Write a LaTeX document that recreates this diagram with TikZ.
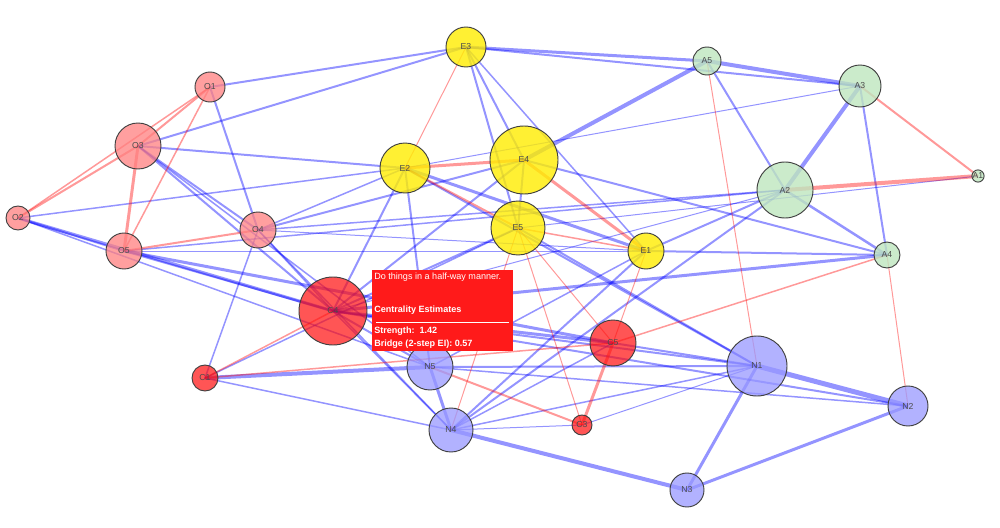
\documentclass[tikz,border=0pt]{standalone}
\usepackage{fontspec}
\setmainfont{Liberation Sans}
\usetikzlibrary{backgrounds}
\definecolor{tipred}{HTML}{FF1A1A}
\begin{document}
\begin{tikzpicture}[x=0.75pt,y=-0.75pt,
  nd/.style={circle,draw=black!75,line width=0.7pt,inner sep=0pt,font=\fontsize{6.5}{7}\selectfont,text=black!70},
  nO/.style={nd,fill=red!50,fill opacity=0.75,text opacity=1},
  nE/.style={nd,fill=yellow!95!orange,fill opacity=0.8,text opacity=1},
  nA/.style={nd,fill=green!60!black!25,fill opacity=0.8,text opacity=1},
  nN/.style={nd,fill=blue!40,fill opacity=0.75,text opacity=1},
  nC/.style={nd,fill=red!95,fill opacity=0.7,text opacity=1},
  be/.style={draw=blue,opacity=0.42},
  re/.style={draw=red,opacity=0.4}]
\useasboundingbox (0,0) rectangle (1000,528);
\foreach \n/\x/\y/\r/\s in {E3/466/47/20/nE,A5/707/61/14/nA,A3/860/86/21/nA,O1/210/87/15/nO,O3/138/146/23/nO,E2/405/168/25/nE,E4/524/160/34/nE,A2/785/190/28/nA,A1/978/176/4/nA,O2/18/218/12/nO,O4/258/230/18/nO,O5/124/251/18/nO,E5/518/228/27/nE,E1/646/251/18/nE,A4/887/255/13/nA,C4/333/311/34/nC,C5/613/343/23/nC,N5/430/367/23/nN,N1/757/366/30/nN,C1/205/378/13/nC,N2/908/406/20/nN,C3/582/425/10/nC,N4/451/430/22/nN,N3/687/490/17/nN}
  \node[\s,minimum size=2*\r*0.75pt] (\n) at (\x,\y) {\n};
\begin{scope}[on background layer]
\fill[white] (0,0) rectangle (1000,528);
\foreach \a/\b/\w in {E3/A5/3,E3/A3/2,E3/O1/2,E3/O3/2,E3/E4/2,E3/E5/2,E3/E1/1.5,A5/A3/4,A5/E4/4,A5/A2/2,A3/A2/4,A3/A4/2,A3/E2/1,A2/A4/2.5,A2/E1/2,A2/O4/1.5,A2/N4/2,A2/O5/1.5,A2/C4/1,A1/E5/1,A4/E1/2,A4/C4/3,A4/E4/2,E4/O4/2,E4/C4/2,E4/E5/2,E2/O3/2,E2/O2/1.5,E2/E1/3,E2/N5/2,E2/C4/2,E2/O4/1.5,E2/N1/2,O1/O4/2,O3/O4/2,O3/C4/2,O3/N5/1.5,O2/O5/2,O2/C4/3,O2/N5/1.5,O5/C4/2,O5/C5/3,O5/E1/1,O4/C4/1.5,O4/C1/1.5,O4/N4/1.5,O4/E1/1,C4/N5/2,C4/N4/1.5,C4/N1/2,C4/E5/2,C4/C5/3,C1/N5/4,C1/N4/1.5,C1/E5/1.5,E5/N1/2,E1/N4/2,E1/N5/1.5,C5/N1/2,C5/N4/1.5,N5/N1/2,N5/N4/3,N5/N2/1.5,N1/N2/5,N1/N3/3,N1/C3/1,N1/N4/1.5,N2/N3/3,N2/C4/2,N4/N3/4,N4/C3/1}
  \draw[be,line width=\w*0.75pt] (\a.center) -- (\b.center);
\foreach \a/\b/\w in {E3/E2/1,A5/N1/1,A3/A1/2,A2/A1/4,A4/N2/1,A4/C5/1.5,E4/E2/3,E4/E1/3,E2/E5/2,O1/O3/2,O1/O2/1.5,O1/O5/1.5,O3/O2/2,O3/O5/3,O5/O4/2,C4/C1/1.5,C1/C5/1.5,E5/N4/1,E5/C3/1,E5/E1/1.5,E5/C5/1,E1/C5/1,C5/C3/3,N5/C3/2}
  \draw[re,line width=\w*0.75pt] (\a.center) -- (\b.center);
\end{scope}
\node[fill=tipred,inner sep=0pt,minimum width=141*0.75pt,minimum height=81*0.75pt,anchor=north west] (tip) at (372,270) {};
\draw[white] (376,322) -- (509,322);
\node[anchor=north west,text=white,font=\fontsize{6.8}{8}\selectfont,inner sep=0pt] (t1) at (374,273) {Do things in a half-way manner.};
\node[anchor=north west,text=white,font=\bfseries\fontsize{6.8}{8}\selectfont,inner sep=0pt] (t2) at (374,306) {Centrality Estimates};
\node[anchor=north west,text=white,font=\bfseries\fontsize{6.8}{8}\selectfont,inner sep=0pt] (t3) at (374,327) {Strength:\ \ 1.42};
\node[anchor=north west,text=white,font=\bfseries\fontsize{6.8}{8}\selectfont,inner sep=0pt] (t4) at (374,340) {Bridge (2-step EI): 0.57};
\end{tikzpicture}
\end{document}
